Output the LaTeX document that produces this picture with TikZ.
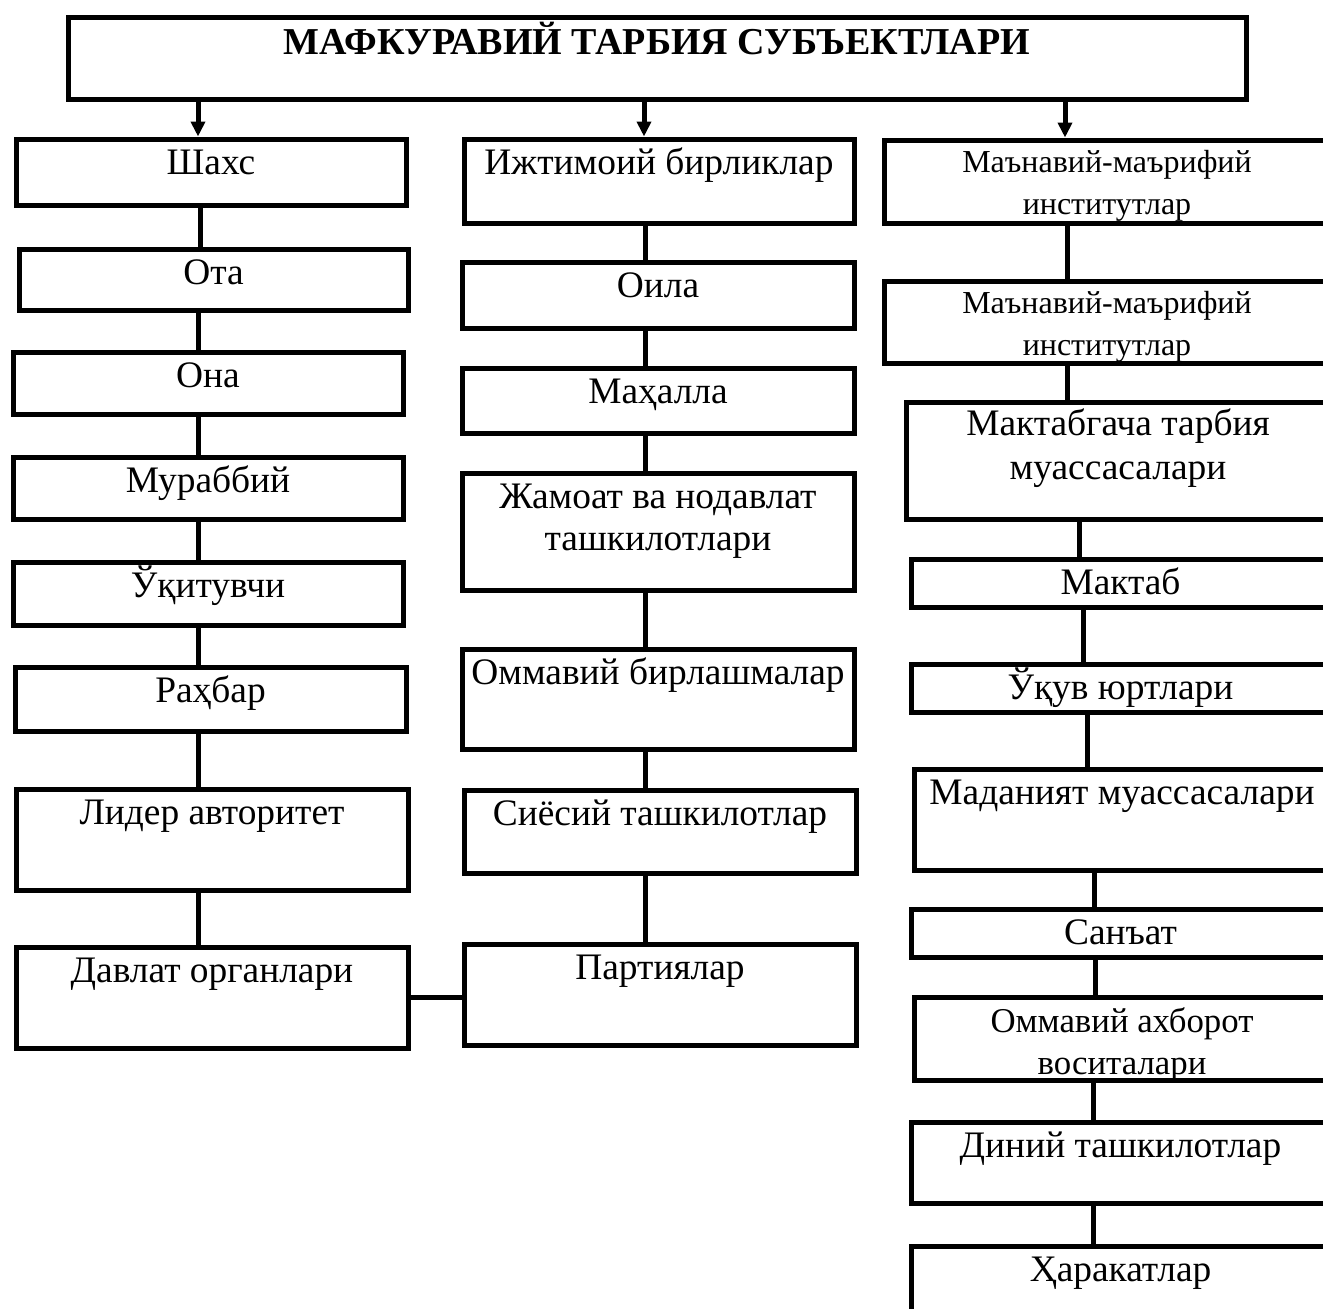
\documentclass[tikz,border=0pt]{standalone}
\usepackage{fontspec}
\setmainfont{Liberation Serif}
\usetikzlibrary{arrows.meta,calc,fit}
\tikzset{>={Triangle[length=7.5pt,width=7pt]}}
\tikzstyle{box}=[draw, line width=2.5pt, inner sep=0pt]
\tikzstyle{txt}=[
	 inner sep=0pt, align=center, anchor=base, yshift=-19pt,
	 font=\fontsize{18.7}{21}\selectfont
    ]
\tikzstyle{two}=[yshift=-21pt]
\tikzstyle{line}=[line width=2.5pt]
\newcommand{\subj}[5][]{\node[box, fit={#3 #4}, label={[txt,#1]north:#5}] (#2) {}}
\newcommand{\pDown}[3]{\draw[line,->] let \p1 = (#1.south), \p2 = (#2.north), \p3 = (#3,0) in (\x3,\y1) -- (\x3,\y2)}
\newcommand{\pLink}[3]{\draw[line] let \p1 = (#1.south), \p2 = (#2.north), \p3 = (#3,0) in (\x3,\y1) -- (\x3,\y2)}

\begin{document}
\begin{tikzpicture}[x=0.5pt,y=-0.5pt]
\useasboundingbox (0,0) rectangle (1323,1308);
\clip (0,0) rectangle (1323,1308);

\subj[yshift=-1pt, font=\bfseries\fontsize{19}{21}\selectfont]{title}{(68,17)}{(1246,99)}{МАФКУРАВИЙ ТАРБИЯ СУБЪЕКТЛАРИ};

% left column
\subj{shaxs}{(16,139)}{(406,205)}{Шахс};
\subj{ota}{(19,249)}{(408,310)}{Ота};
\subj{ona}{(13,352)}{(403,414)}{Она};
\subj{murabbiy}{(13,457)}{(403,519)}{Мураббий};
\subj{uqituvchi}{(13,562)}{(403,625)}{Ўқитувчи};
\subj{rahbar}{(15,667)}{(406,731)}{Раҳбар};
\subj{lider}{(16,789)}{(408,890)}{Лидер авторитет};
\subj{davlat}{(16,947)}{(408,1048)}{Давлат органлари};

% middle column
\subj{ijtimoiy}{(464,139)}{(854,223)}{Ижтимоий бирликлар};
\subj{oila}{(462,262)}{(854,328)}{Оила};
\subj{mahalla}{(462,368)}{(854,433)}{Маҳалла};
\subj[two]{jamoat}{(462,473)}{(854,590)}{Жамоат ва нодавлат\\ташкилотлари};
\subj{ommaviy}{(462,649)}{(854,749)}{Оммавий бирлашмалар};
\subj{siyosiy}{(464,790)}{(856,873)}{Сиёсий ташкилотлар};
\subj{partiya}{(464,944)}{(856,1045)}{Партиялар};

% right column
\subj[two, yshift=1.5pt, font=\fontsize{16}{21}\selectfont]{manaviy}{(884,140)}{(1330,223)}{Маънавий-маърифий\\институтлар};
\subj[two, yshift=1.5pt, font=\fontsize{16}{21}\selectfont]{manaviyb}{(884,281)}{(1330,363)}{Маънавий-маърифий\\институтлар};
\subj[two, font=\fontsize{18.7}{22}\selectfont]{maktabgacha}{(906,402)}{(1330,519)}{Мактабгача тарбия\\муассасалари};
\subj{maktab}{(911,559)}{(1330,607)}{Мактаб};
\subj{oquv}{(911,664)}{(1330,712)}{Ўқув юртлари};
\subj{madaniyat}{(914,769)}{(1330,870)}{Маданият муассасалари};
\subj{sanat}{(911,909)}{(1330,957)}{Санъат};
\subj[two, font=\fontsize{17.4}{21}\selectfont]{oav}{(914,997)}{(1330,1080)}{Оммавий ахборот\\воситалари};
\subj{diniy}{(911,1122)}{(1330,1203)}{Диний ташкилотлар};
\subj{harakat}{(911,1246)}{(1330,1330)}{Ҳаракатлар};

\pDown{title}{shaxs}{198};
\pDown{title}{ijtimoiy}{644};
\pDown{title}{manaviy}{1065};

\pLink{shaxs}{ota}{200};
\pLink{ota}{ona}{198};
\pLink{ona}{murabbiy}{198};
\pLink{murabbiy}{uqituvchi}{198};
\pLink{uqituvchi}{rahbar}{198};
\pLink{rahbar}{lider}{198};
\pLink{lider}{davlat}{198};

\pLink{ijtimoiy}{oila}{645};
\pLink{oila}{mahalla}{645};
\pLink{mahalla}{jamoat}{645};
\pLink{jamoat}{ommaviy}{645};
\pLink{ommaviy}{siyosiy}{645};
\pLink{siyosiy}{partiya}{645};

\pLink{manaviy}{manaviyb}{1067};
\pLink{manaviyb}{maktabgacha}{1067};
\pLink{maktabgacha}{maktab}{1079};
\pLink{maktab}{oquv}{1083};
\pLink{oquv}{madaniyat}{1087};
\pLink{madaniyat}{sanat}{1094};
\pLink{sanat}{oav}{1095};
\pLink{oav}{diniy}{1093};
\pLink{diniy}{harakat}{1093};

\draw[line] let \p1 = (davlat.east), \p2 = (partiya.west), \p3 = (0,997) in (\x1,\y3) -- (\x2,\y3);

\end{tikzpicture}
\end{document}
